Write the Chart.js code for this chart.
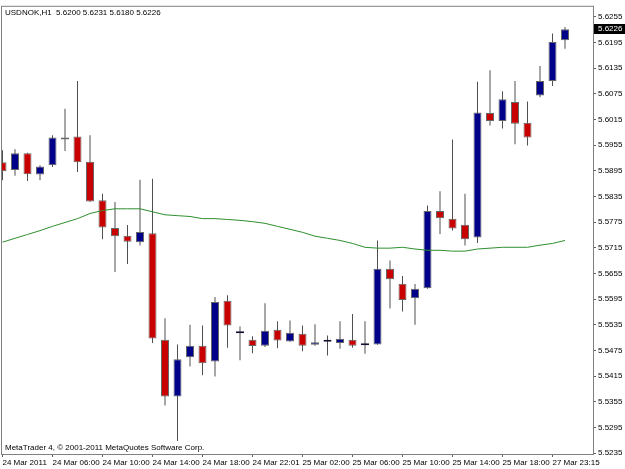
<!DOCTYPE html>
<html lang="en">
<head>
    <title>USDNOK,H1</title>
    <meta charset="utf-8">
    <script src="https://cdn.jsdelivr.net/npm/chart.js"></script>
    <style>
        body { margin: 0; background: #fff; }
        .wrap { width: 625px; height: 469px; position: relative; }
    </style>
</head>
<body>
    <div class="wrap">
        <canvas id="chart"></canvas>
    </div>
    <script>
        // hourly candles, 24 Mar 2011 .. 27 Mar 2011
        const open = [5.5915, 5.5897, 5.5936, 5.5886, 5.5908, 5.5968, 5.5975, 5.5916, 5.5826, 5.5761,
            5.5743, 5.5728, 5.5749, 5.5500, 5.5367, 5.5459, 5.5486, 5.5449, 5.5591, 5.5515,
            5.5500, 5.5486, 5.5523, 5.5496, 5.5514, 5.5488, 5.5495, 5.5492, 5.5500, 5.5487,
            5.5489, 5.5666, 5.5631, 5.5597, 5.5620, 5.5801, 5.5783, 5.5769, 5.5739, 5.6030,
            5.6011, 5.6056, 5.6007, 5.6071, 5.6105, 5.6200];
        const high = [5.5943, 5.5945, 5.5937, 5.5908, 5.5978, 5.6040, 5.6105, 5.5978, 5.5841, 5.5822,
            5.5768, 5.5874, 5.5876, 5.5550, 5.5489, 5.5535, 5.5533, 5.5600, 5.5604, 5.5531,
            5.5508, 5.5585, 5.5543, 5.5545, 5.5533, 5.5536, 5.5510, 5.5543, 5.5560, 5.5543,
            5.5732, 5.5685, 5.5649, 5.5630, 5.5814, 5.5847, 5.5968, 5.5841, 5.6103, 5.6130,
            5.6081, 5.6105, 5.6057, 5.6140, 5.6216, 5.6231];
        const low = [5.5873, 5.5883, 5.5871, 5.5873, 5.5904, 5.5941, 5.5892, 5.5822, 5.5735, 5.5658,
            5.5677, 5.5720, 5.5492, 5.5346, 5.5263, 5.5437, 5.5417, 5.5414, 5.5481, 5.5452,
            5.5468, 5.5483, 5.5480, 5.5495, 5.5473, 5.5486, 5.5463, 5.5479, 5.5481, 5.5467,
            5.5488, 5.5573, 5.5566, 5.5535, 5.5619, 5.5747, 5.5755, 5.5720, 5.5726, 5.6001,
            5.5994, 5.5957, 5.5954, 5.6067, 5.6093, 5.6180];
        const close = [5.5894, 5.5936, 5.5887, 5.5905, 5.5973, 5.5970, 5.5915, 5.5823, 5.5762, 5.5742,
            5.5729, 5.5752, 5.5503, 5.5367, 5.5454, 5.5486, 5.5445, 5.5588, 5.5533, 5.5515,
            5.5485, 5.5521, 5.5498, 5.5516, 5.5486, 5.5494, 5.5495, 5.5502, 5.5486, 5.5487,
            5.5666, 5.5641, 5.5593, 5.5619, 5.5801, 5.5784, 5.5760, 5.5735, 5.6031, 5.6011,
            5.6062, 5.6005, 5.5973, 5.6105, 5.6196, 5.6226];
        // moving average (green line)
        const ma = [5.5728, 5.5737, 5.5746, 5.5755, 5.5765, 5.5774, 5.5783, 5.5795, 5.5802, 5.5806,
            5.5806, 5.5806, 5.5799, 5.5792, 5.5790, 5.5788, 5.5783, 5.5783, 5.5781, 5.5779,
            5.5776, 5.5772, 5.5765, 5.5758, 5.5751, 5.5742, 5.5737, 5.5732, 5.5725, 5.5716,
            5.5714, 5.5714, 5.5716, 5.5712, 5.5709, 5.5709, 5.5707, 5.5707, 5.5712, 5.5714,
            5.5716, 5.5716, 5.5716, 5.5721, 5.5725, 5.5732];

        const timeTickIndex = [0, 4, 8, 12, 16, 20, 24, 28, 32, 36, 40, 44];
        const timeTickLabels = ['24 Mar 2011', '24 Mar 06:00', '24 Mar 10:00', '24 Mar 14:00', '24 Mar 18:00', '24 Mar 22:01',
            '25 Mar 02:00', '25 Mar 06:00', '25 Mar 10:00', '25 Mar 14:00', '25 Mar 18:00', '27 Mar 23:15'];
        const priceTicks = [5.5235, 5.5295, 5.5355, 5.5415, 5.5475, 5.5535, 5.5595, 5.5655, 5.5715,
            5.5775, 5.5835, 5.5895, 5.5955, 5.6015, 5.6075, 5.6135, 5.6195, 5.6255];

        const FONT = '"Liberation Sans", Arial, sans-serif';
        Chart.defaults.font.family = FONT;
        Chart.defaults.font.size = 8;
        Chart.defaults.color = '#000';

        const last = close.length - 1;
        const upColor = '#000088';
        const downColor = '#c80000';

        function candleColor(i) {
            if (close[i] > open[i]) return upColor;
            if (close[i] < open[i]) return downColor;
            return '#101030';
        }

        const bodies = open.map((o, i) => ({ x: i, y: [o, close[i]] }));
        const wicks = open.map((o, i) => ({ x: i, y: [low[i], high[i]] }));
        const maLine = ma.map((v, i) => ({ x: i, y: v }));

        const mtPlugin = {
            id: 'mtDecor',
            afterDraw(chart) {
                const ctx = chart.ctx;
                const a = chart.chartArea;
                const yScale = chart.scales.y;
                ctx.save();
                // frame round the data area
                ctx.strokeStyle = '#808080';
                ctx.lineWidth = 1;
                ctx.strokeRect(a.left - 0.5, a.top - 0.5, a.right - a.left + 1, a.bottom - a.top + 1);

                ctx.fillStyle = '#000';
                ctx.font = '8px ' + FONT;
                ctx.textBaseline = 'middle';
                ctx.textAlign = 'left';
                const head = 'USDNOK,H1  ' + [open[last], high[last], low[last], close[last]].map(v => v.toFixed(4)).join(' ');
                ctx.fillText(head, a.left + 3, a.top + 6);
                ctx.fillText('MetaTrader 4, \u00a9 2001-2011 MetaQuotes Software Corp.', a.left + 3, a.bottom - 6);

                // current price box
                const py = Math.round(yScale.getPixelForValue(close[last]));
                ctx.fillStyle = '#000';
                ctx.fillRect(a.right + 1, py - 5, chart.width - a.right - 1, 10);
                ctx.fillStyle = '#fff';
                ctx.fillText(close[last].toFixed(4), a.right + 5, py);
                ctx.restore();
            }
        };

        const chart = new Chart(document.getElementById('chart'), {
            type: 'bar',
            data: {
                datasets: [{
                    type: 'line',
                    data: maLine,
                    borderColor: '#2f8f2f',
                    borderWidth: 1,
                    pointRadius: 0,
                    tension: 0,
                    order: 0
                }, {
                    data: bodies,
                    grouped: false,
                    maxBarThickness: 8,
                    minBarLength: 2,
                    backgroundColor: ctx => candleColor(ctx.dataIndex),
                    borderColor: ctx => (open[ctx.dataIndex] === close[ctx.dataIndex] ? '#101030' : '#666'),
                    borderWidth: 1,
                    borderSkipped: false,
                    order: 1
                }, {
                    data: wicks,
                    grouped: false,
                    maxBarThickness: 1,
                    backgroundColor: '#505050',
                    borderWidth: 0,
                    order: 2
                }]
            },
            plugins: [mtPlugin],
            options: {
                responsive: true,
                maintainAspectRatio: false,
                devicePixelRatio: 1,
                animation: false,
                layout: { padding: { left: 2, top: 2, right: 0, bottom: 0 } },
                plugins: {
                    legend: { display: false },
                    tooltip: { enabled: false }
                },
                scales: {
                    x: {
                        type: 'linear',
                        min: -0.04,
                        max: 47.24,
                        bounds: 'data',
                        offset: false,
                        grid: { offset: false, drawOnChartArea: false, drawTicks: true, tickLength: 3, tickColor: '#606060' },
                        border: { display: false },
                        afterBuildTicks: s => { s.ticks = timeTickIndex.map(v => ({ value: v })); },
                        afterFit: s => { s.height = 15; },
                        ticks: {
                            autoSkip: false,
                            maxRotation: 0,
                            align: 'start',
                            padding: 1,
                            callback: (v, i) => timeTickLabels[i]
                        }
                    },
                    y: {
                        type: 'linear',
                        position: 'right',
                        min: 5.52327,
                        max: 5.62783,
                        bounds: 'data',
                        grid: { drawOnChartArea: false, drawTicks: true, tickLength: 3, tickColor: '#606060' },
                        border: { display: false },
                        afterBuildTicks: s => { s.ticks = priceTicks.map(v => ({ value: v })); },
                        afterFit: s => { s.width = 32; },
                        ticks: {
                            padding: 2,
                            crossAlign: 'near',
                            callback: v => v.toFixed(4)
                        }
                    }
                }
            }
        });
    </script>
</body>
</html>
